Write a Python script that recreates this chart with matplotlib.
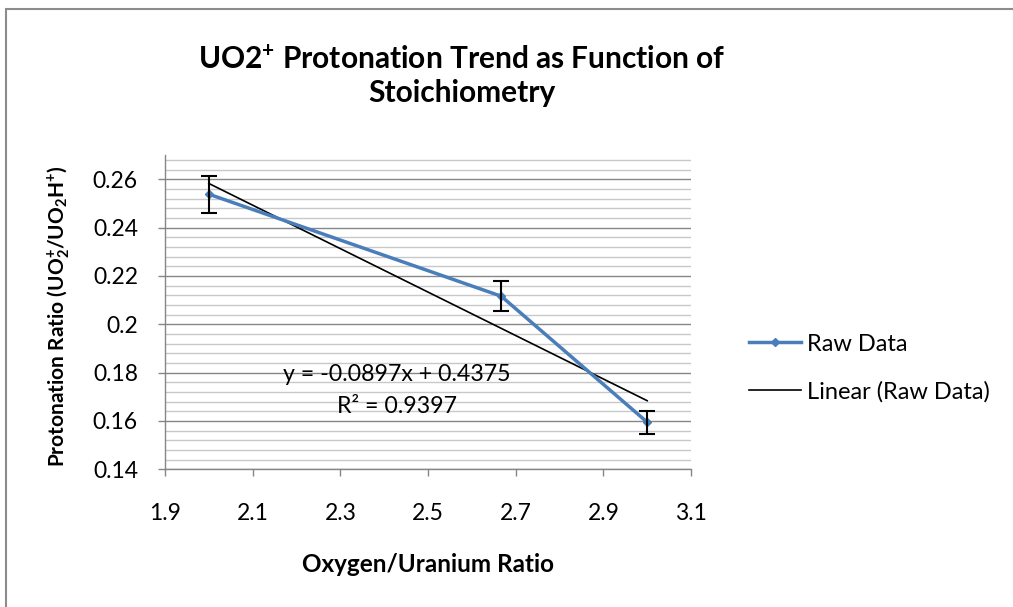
import matplotlib
matplotlib.use("Agg")
import matplotlib.pyplot as plt
import numpy as np
from matplotlib.patches import Rectangle
from matplotlib.lines import Line2D
from matplotlib.ticker import MultipleLocator

plt.rcParams['font.family'] = ['Lato', 'DejaVu Sans']
plt.rcParams['mathtext.fontset'] = 'custom'
plt.rcParams['mathtext.rm'] = 'Lato'
plt.rcParams['mathtext.bf'] = 'Lato:bold'

# data
x_ratio = [2.0, 2.667, 3.0]
protonation = [0.2538, 0.2116, 0.1595]
errors = [0.0076, 0.0062, 0.0048]
x_ticks = [1.9, 2.1, 2.3, 2.5, 2.7, 2.9, 3.1]
y_ticks = [0.14, 0.16, 0.18, 0.2, 0.22, 0.24, 0.26]
eq_text = "y = -0.0897x + 0.4375"
r2_text = "R² = 0.9397"
title_text = "UO2$\\mathbf{^{+}}$ Protonation Trend as Function of\nStoichiometry"
ylabel_text = "Protonation Ratio (UO$\\mathbf{_{2}^{+}}$/UO$\\mathbf{_{2}}$H$\\mathbf{^{+}}$)"
xlabel_text = "Oxygen/Uranium Ratio"
series_label = "Raw Data"
trend_label = "Linear (Raw Data)"

W, H = 1013, 607
fig = plt.figure(figsize=(W / 100, H / 100), dpi=100)
fig.patch.set_facecolor('white')

# chart border
fig.patches.append(Rectangle((6 / W, -0.05), 1.1, (H - 9) / H + 0.05, transform=fig.transFigure,
                             fill=False, edgecolor='#8c8c8c', linewidth=1.5))

ax = fig.add_axes([165 / W, (H - 469.3) / H, (691 - 165) / W, (469.3 - 155) / H])
ax.set_xlim(1.9, 3.1)
ax.set_ylim(0.14, 0.27)
ax.yaxis.set_minor_locator(MultipleLocator(0.004))
ax.set_xticks(x_ticks)
ax.set_xticklabels([f"{v:g}" for v in x_ticks])
ax.set_yticks(y_ticks)
ax.set_yticklabels([f"{v:g}" for v in y_ticks])

ax.grid(True, which='major', axis='y', color='#868686', linewidth=1.0)
ax.grid(True, which='minor', axis='y', color='#c8c8c8', linewidth=1.0)
ax.set_axisbelow(True)
for s in ['top', 'right']:
    ax.spines[s].set_visible(False)
for s in ['left', 'bottom']:
    ax.spines[s].set_color('#868686')
    ax.spines[s].set_linewidth(1.0)
ax.tick_params(axis='both', which='major', direction='out', length=5, width=1.0,
               color='#868686', labelsize=16.5, labelcolor='black')
ax.tick_params(axis='y', which='minor', length=0)
ax.tick_params(axis='x', pad=19)
ax.tick_params(axis='y', pad=14.5)

# series
ax.plot(x_ratio, protonation, color='#4a7ebb', linewidth=2.5, marker='D', markersize=4,
        zorder=4)
ax.errorbar(x_ratio, protonation, yerr=errors, fmt='none', ecolor='black', elinewidth=1.5,
            capsize=6, capthick=1.5, zorder=5)

# linear trend
coef = np.polyfit(x_ratio, protonation, 1)
xt = np.array([min(x_ratio), max(x_ratio)])
ax.plot(xt, np.polyval(coef, xt), color='black', linewidth=1.2, zorder=3)

ax.text(2.429, 0.1791, eq_text, ha='center', va='center', fontsize=16.7, zorder=6)
ax.text(2.429, 0.1660, r2_text, ha='center', va='center', fontsize=16.7, zorder=6)

# titles
fig.text(462 / W, 1 - 76 / H, title_text, ha='center', va='center', fontsize=21.5,
         fontweight='bold', linespacing=1.25)
fig.text(428 / W, 1 - 565 / H, xlabel_text, ha='center', va='center', fontsize=17.5,
         fontweight='bold')
fig.text(59 / W, 1 - 316 / H, ylabel_text, ha='center', va='center', fontsize=15,
         fontweight='bold', rotation=90)

# legend
handles = [Line2D([], [], color='#4a7ebb', linewidth=2.5, marker='D', markersize=4),
           Line2D([], [], color='black', linewidth=1.2)]
fig.legend(handles, [series_label, trend_label], loc='center left',
           bbox_to_anchor=(749 / W, 1 - 368 / H), frameon=False, fontsize=17,
           handlelength=2.2, handletextpad=0.25, labelspacing=1.1, borderpad=0,
           borderaxespad=0)

fig.savefig('out.png', dpi=100, facecolor='white')
